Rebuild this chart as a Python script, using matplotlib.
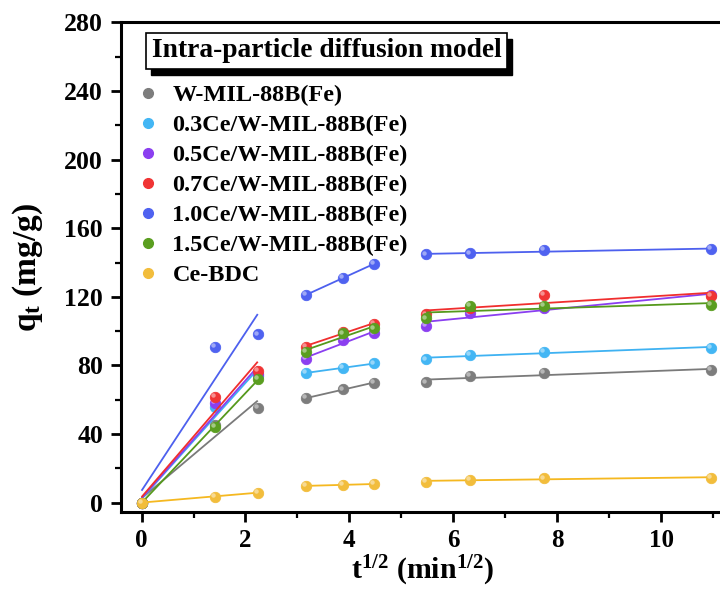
import numpy as np
import matplotlib
matplotlib.use("Agg")
import matplotlib.pyplot as plt
from matplotlib.ticker import MultipleLocator
from matplotlib.transforms import offset_copy
from matplotlib.lines import Line2D
from matplotlib.patches import Rectangle

# ---- data ----
t_min = [0, 2, 5, 10, 15, 20, 30, 40, 60, 120]
labels = ["W-MIL-88B(Fe)", "0.3Ce/W-MIL-88B(Fe)", "0.5Ce/W-MIL-88B(Fe)",
          "0.7Ce/W-MIL-88B(Fe)", "1.0Ce/W-MIL-88B(Fe)", "1.5Ce/W-MIL-88B(Fe)", "Ce-BDC"]
q_gray   = [0, 45.0, 55.3, 60.8, 66.0, 69.9, 70.1, 73.8, 75.4, 77.3]
q_cyan   = [0, 55.9, 74.0, 75.7, 78.3, 81.2, 83.5, 86.0, 88.0, 90.3]
q_purple = [0, 57.9, 75.0, 83.7, 94.8, 98.7, 102.9, 110.3, 113.2, 121.0]
q_red    = [0, 61.7, 76.7, 90.9, 99.6, 104.1, 109.7, 113.2, 121.0, 120.5]
q_blue   = [0, 90.8, 98.1, 121.0, 131.1, 139.1, 144.7, 145.3, 147.2, 147.8]
q_green  = [0, 44.3, 71.9, 88.0, 98.7, 101.6, 107.4, 114.6, 114.8, 115.2]
q_yellow = [0, 3.5, 5.8, 9.7, 10.3, 10.8, 12.2, 13.1, 14.1, 14.5]
stages = [(0, 3), (3, 6), (6, 10)]

series = [q_gray, q_cyan, q_purple, q_red, q_blue, q_green, q_yellow]
colors = ["#7d7d7d", "#43b6f4", "#8b3ff0", "#f03434", "#4f62f0", "#5a9e20", "#f2bd3c"]
line_colors = ["#7a7a7a", "#3fb2f2", "#8a3ff0", "#f02e2e", "#4d60ee", "#55991c", "#f5b820"]

plt.rcParams['font.family'] = ['Liberation Serif', 'DejaVu Serif']
plt.rcParams['font.weight'] = 'bold'
plt.rcParams['mathtext.fontset'] = 'custom'
plt.rcParams['mathtext.rm'] = 'Liberation Serif:bold'
plt.rcParams['mathtext.it'] = 'Liberation Serif:bold'
plt.rcParams['mathtext.bf'] = 'Liberation Serif:bold'

fig = plt.figure(figsize=(7.2, 5.89), dpi=100)
ax = fig.add_axes([0.168, 0.1314, 0.832, 0.8304])

x = np.sqrt(np.array(t_min, dtype=float))

for i, (q, c, lc, lab) in enumerate(zip(series, colors, line_colors, labels)):
    q = np.array(q, dtype=float)
    z = 3 + i
    for a, b in stages:
        xs, ys = x[a:b], q[a:b]
        k, c0 = np.polyfit(xs, ys, 1)
        xl = np.array([xs[0], xs[-1]])
        ax.plot(xl, k * xl + c0, color=lc, lw=1.3, zorder=z, solid_capstyle='butt')
    ax.plot(x, q, ls='none', marker='o', ms=7.5, mfc=c, mec=c, mew=0.6, zorder=z + 0.1)
    hl = offset_copy(ax.transData, fig=fig, x=-1.3, y=1.3, units='points')
    ax.plot(x, q, ls='none', marker='o', ms=3.2, mfc='white', mec='none', alpha=0.45,
            transform=hl, zorder=z + 0.2)

ax.set_xlim(-0.396, 11.13)
ax.set_ylim(-5.3, 280)
ax.xaxis.set_major_locator(MultipleLocator(2))
ax.xaxis.set_minor_locator(MultipleLocator(1))
ax.yaxis.set_major_locator(MultipleLocator(40))
ax.yaxis.set_minor_locator(MultipleLocator(20))
ax.tick_params(which='major', direction='out', length=7.5, width=2, labelsize=18.5)
ax.tick_params(which='minor', direction='out', length=4, width=1.6)
ax.tick_params(axis='y', which='major', pad=5.5)
ax.tick_params(axis='x', which='major', pad=5, labelsize=18)
for s in ['left', 'bottom', 'top']:
    ax.spines[s].set_linewidth(2.2)
ax.spines['right'].set_visible(False)

ax.set_xlabel(r"t$^{1/2}$ (min$^{1/2}$)", fontsize=21.5, fontweight='bold', va='baseline')
# baseline at ~579 px from the top
ax.xaxis.set_label_coords(0.5042, ((589 - 579) / 589 - 0.1314) / 0.8304)
ax.set_ylabel(r"q$_{\mathrm{t}}$ (mg/g)", fontsize=24, fontweight='bold', labelpad=14)

# title box with shadow
title = "Intra-particle diffusion model"
tx, ty = 326.5 / 720, 1 - 50.5 / 589
ttl = fig.text(tx, ty, title, fontsize=19.8, fontweight='bold', color='black',
               ha='center', va='center', zorder=11,
               bbox=dict(boxstyle='square,pad=0.2', fc='white', ec='black', lw=1.2))
fig.canvas.draw()
bb = ttl.get_bbox_patch().get_window_extent()
shadow = Rectangle((bb.x0 + 5, bb.y0 - 6), bb.width, bb.height, transform=None,
                   fc='black', ec='black', zorder=10)
fig.add_artist(shadow)

handles = [Line2D([], [], ls='none', marker='o', ms=7, mfc=c, mec=c) for c in colors]
leg = fig.legend(handles, labels, loc='upper left', bbox_to_anchor=(136 / 720, 1 - 84 / 589),
                 frameon=False, fontsize=17.5, handlelength=1.0, handletextpad=0.5,
                 labelspacing=0.33, borderpad=0, borderaxespad=0)
for t in leg.get_texts():
    t.set_fontweight('bold')

fig.savefig("out.png", dpi=100)
